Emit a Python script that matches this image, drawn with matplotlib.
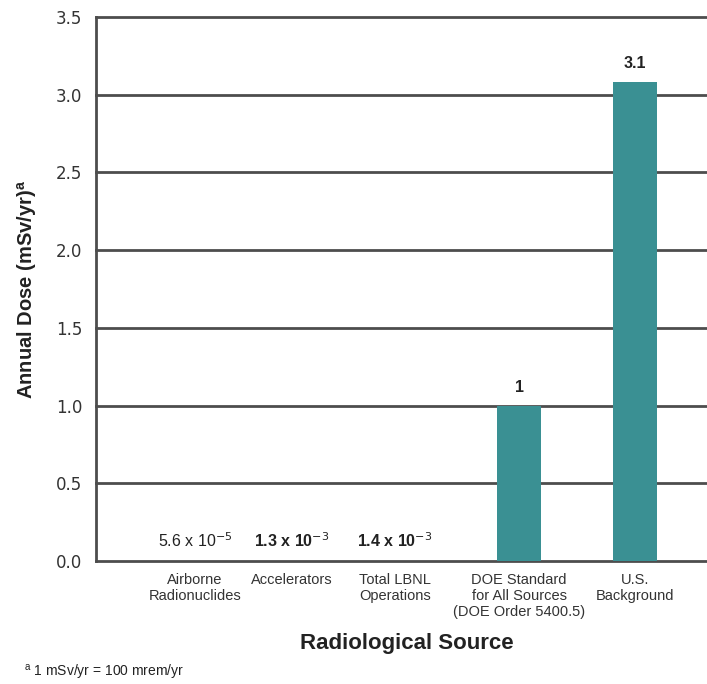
import matplotlib
matplotlib.use("Agg")
import matplotlib.pyplot as plt

# data
categories = ["Airborne\nRadionuclides", "Accelerators", "Total LBNL\nOperations",
              "DOE Standard\nfor All Sources\n(DOE Order 5400.5)", "U.S.\nBackground"]
doses = [5.6e-5, 1.3e-3, 1.4e-3, 1.0, 3.08]
value_labels = ["5.6 x 10$^{-5}$", "1.3 x 10$^{-3}$", "1.4 x 10$^{-3}$", "1", "3.1"]
label_bold = [False, True, True, True, True]
positions = [99, 196, 299, 423, 539]
yticks = [0.0, 0.5, 1.0, 1.5, 2.0, 2.5, 3.0, 3.5]

teal = "#3a9093"
grid_col = "#4d4d4d"

plt.rcParams['font.family'] = ['Liberation Sans', 'DejaVu Sans']

fig = plt.figure(figsize=(7.07, 6.84), dpi=100)
ax = fig.add_axes([96/707, 1 - 561/684, 611/707, (561-17)/684])

ax.bar(positions, doses, width=44, color=teal, zorder=3)
for y in yticks:
    ax.axhline(y, color=grid_col, lw=2, zorder=2, clip_on=False)

for x, v, lab, b in zip(positions, doses, value_labels, label_bold):
    ax.text(x, v + 0.07, lab, ha="center", va="bottom", fontsize=11.5,
            fontweight="bold" if b else "normal", color="#222222")

ax.set_xlim(0, 611)
ax.set_ylim(0, 3.5)
ax.set_yticks(yticks)
ax.set_yticklabels([f"{t:.1f}" for t in yticks], fontsize=12, color="#333333",
                   family="DejaVu Sans")
ax.set_xticks(positions)
ax.set_xticklabels(categories, fontsize=10.5, color="#333333", linespacing=1.15)
ax.tick_params(length=0, pad=10)
ax.tick_params(axis="x", pad=9)
for s in ["top", "right", "bottom"]:
    ax.spines[s].set_visible(False)
ax.spines["left"].set_color(grid_col)
ax.spines["left"].set_linewidth(2)

ax.set_ylabel("Annual Dose (mSv/yr)$^{\\mathregular{a}}$", fontsize=14.5,
              fontweight="bold", color="#222222", labelpad=12)
fig.text(407/707, 1 - 643/684, "Radiological Source", fontsize=16,
         fontweight="bold", color="#222222", ha="center", va="center")
fig.text(24/707, 1 - 673/684, "$^{\\mathregular{a}}$ 1 mSv/yr = 100 mrem/yr",
         fontsize=10, color="#222222", ha="left", va="center")

fig.savefig("out.png", dpi=100)
